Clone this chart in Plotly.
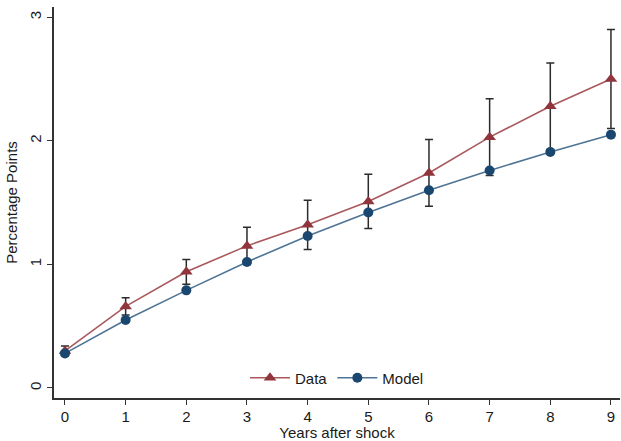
import plotly.graph_objects as go

# Years after the shock
years = [0, 1, 2, 3, 4, 5, 6, 7, 8, 9]

# Observed response (percentage points) with confidence band
data_resp = [0.30, 0.66, 0.94, 1.15, 1.32, 1.51, 1.74, 2.03, 2.28, 2.50]
data_lo = [0.26, 0.59, 0.84, 1.00, 1.12, 1.29, 1.47, 1.72, 1.93, 2.10]
data_hi = [0.34, 0.73, 1.04, 1.30, 1.52, 1.73, 2.01, 2.34, 2.63, 2.90]

# Model-implied response (percentage points)
model_resp = [0.28, 0.55, 0.79, 1.02, 1.23, 1.42, 1.60, 1.76, 1.91, 2.05]

x_ticks = [0, 1, 2, 3, 4, 5, 6, 7, 8, 9]
y_ticks = [0, 1, 2, 3]

RED = "#90353b"
RED_LINE = "#a9585c"
NAVY = "#1a476f"
NAVY_LINE = "#4f7395"
FONT = "Liberation Sans, Arial, sans-serif"

mid = [(lo + hi) / 2 for lo, hi in zip(data_lo, data_hi)]
half = [(hi - lo) / 2 for lo, hi in zip(data_lo, data_hi)]

fig = go.Figure()

# Confidence interval caps, drawn underneath the series
fig.add_trace(go.Scatter(
    x=years, y=mid, mode="markers",
    marker=dict(size=1, opacity=0),
    error_y=dict(type="data", array=half, symmetric=True,
                 color="#2b2b2b", thickness=1.5, width=4),
    showlegend=False, hoverinfo="skip",
))

fig.add_trace(go.Scatter(
    x=years, y=data_resp, mode="lines+markers", name="Data",
    line=dict(color=RED_LINE, width=1.6),
    marker=dict(symbol="triangle-up", size=11, color=RED),
))

fig.add_trace(go.Scatter(
    x=years, y=model_resp, mode="lines+markers", name="Model",
    line=dict(color=NAVY_LINE, width=1.6),
    marker=dict(symbol="circle", size=10, color=NAVY),
))

fig.update_layout(
    width=621, height=441,
    margin=dict(l=54, r=1, t=7, b=43),
    paper_bgcolor="white", plot_bgcolor="white",
    font=dict(family=FONT, size=15, color="#1a1a1a"),
    legend=dict(orientation="h", x=0.5, xanchor="center",
                y=0.051, yanchor="middle",
                bgcolor="rgba(0,0,0,0)", font=dict(size=15),
                itemwidth=40),
    xaxis=dict(
        range=[-0.181, 9.149], tickmode="array", tickvals=x_ticks,
        showgrid=False, zeroline=False,
        showline=True, linecolor="#333333", linewidth=1.5,
        ticks="outside", ticklen=5, tickcolor="#333333",
        tickfont=dict(size=15), ticklabelstandoff=-1,
        title=dict(text="Years after shock", font=dict(size=15), standoff=3),
    ),
    yaxis=dict(
        range=[-0.081, 3.083], tickmode="array", tickvals=y_ticks,
        showgrid=False, zeroline=False,
        showline=True, linecolor="#333333", linewidth=1.5,
        ticks="outside", ticklen=5, tickcolor="#333333",
        tickangle=-90, tickfont=dict(size=15),
        title=dict(text="Percentage Points", font=dict(size=15), standoff=6),
    ),
)

fig.write_html("out.html")
